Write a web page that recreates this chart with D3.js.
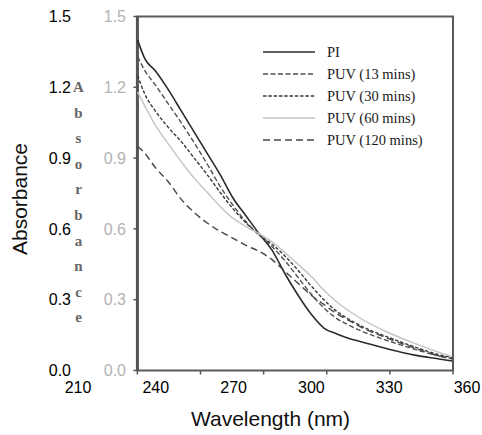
<!DOCTYPE html>
<html><head><meta charset="utf-8">
<script src="https://cdn.jsdelivr.net/npm/d3@7"></script>
<style>body{margin:0;background:#fff}svg{display:block}</style>
</head><body>
<script>
const wavelengths = [233.2, 236, 240, 245, 250, 255, 260, 265, 270, 275, 280, 285, 290, 295, 300, 305, 310, 315, 320, 330, 340, 350, 354.5];
const PI      = [1.40, 1.32, 1.27, 1.19, 1.10, 1.01, 0.92, 0.83, 0.73, 0.655, 0.58, 0.51, 0.41, 0.32, 0.24, 0.18, 0.155, 0.135, 0.12, 0.09, 0.065, 0.048, 0.04];
const PUV13   = [1.33, 1.27, 1.21, 1.13, 1.05, 0.965, 0.875, 0.78, 0.70, 0.63, 0.575, 0.525, 0.465, 0.395, 0.325, 0.265, 0.22, 0.19, 0.165, 0.125, 0.09, 0.06, 0.05];
const PUV30   = [1.25, 1.17, 1.10, 1.03, 0.97, 0.90, 0.83, 0.755, 0.685, 0.625, 0.575, 0.535, 0.485, 0.425, 0.36, 0.30, 0.25, 0.215, 0.185, 0.14, 0.10, 0.065, 0.055];
const PUV60   = [1.18, 1.12, 1.04, 0.96, 0.885, 0.815, 0.755, 0.695, 0.645, 0.61, 0.58, 0.545, 0.50, 0.45, 0.40, 0.34, 0.29, 0.25, 0.215, 0.16, 0.115, 0.075, 0.06];
const PUV120  = [0.95, 0.92, 0.86, 0.80, 0.725, 0.67, 0.625, 0.59, 0.56, 0.53, 0.505, 0.47, 0.42, 0.37, 0.32, 0.28, 0.24, 0.21, 0.18, 0.135, 0.095, 0.06, 0.05];
const seriesNames = ["PI", "PUV (13 mins)", "PUV (30 mins)", "PUV (60 mins)", "PUV (120 mins)"];
const xTicks = [210, 240, 270, 300, 330, 360];
const yTicks = [0.0, 0.3, 0.6, 0.9, 1.2, 1.5];
const innerXRange = [233.1, 354.8];
const innerLetters = ["A","b","s","o","r","b","a","n","c","e"];

const W = 482, H = 435;
const svg = d3.select("body").append("svg").attr("width", W).attr("height", H);
const x = d3.scaleLinear().domain([210, 360]).range([77.5, 466.5]);
const y = d3.scaleLinear().domain([0, 1.5]).range([370.5, 16.5]);

const styles = [
  {color:"#2b2b2b", dash:null, w:1.6},
  {color:"#505050", dash:"5,2.5", w:1.4},
  {color:"#3a3a3a", dash:"3.5,1.8", w:1.4},
  {color:"#c4c4c4", dash:null, w:1.4},
  {color:"#454545", dash:"7,4", w:1.4}
];
const allSeries = [PI, PUV13, PUV30, PUV60, PUV120];

svg.append("g").selectAll("text").data(yTicks).join("text")
  .attr("x", 126).attr("y", d => y(d)).attr("dy", "0.36em")
  .attr("text-anchor", "end").attr("font-family", "Liberation Sans, Arial, sans-serif")
  .attr("font-size", 16).attr("fill", "#b3b3b3").text(d => d.toFixed(1));

const letterScale = d3.scaleLinear().domain([0, innerLetters.length - 1]).range([87, 317]);
svg.append("g").selectAll("text").data(innerLetters).join("text")
  .attr("x", 78.5).attr("y", (d, i) => letterScale(i)).attr("dy", "0.35em")
  .attr("text-anchor", "middle").attr("font-family", "Liberation Serif, Times New Roman, serif")
  .attr("font-weight", "bold").attr("font-size", 15).attr("fill", "#666").text(d => d);

const fx0 = x(innerXRange[0]), fx1 = x(innerXRange[1]);
svg.append("rect").attr("x", fx0).attr("y", y(1.5)).attr("width", fx1 - fx0).attr("height", y(0) - y(1.5))
  .attr("fill", "none").attr("stroke", "#5a5a5a").attr("stroke-width", 2);
svg.append("line").attr("x1", fx0).attr("x2", fx0).attr("y1", y(1.5)).attr("y2", y(0))
  .attr("stroke", "#555").attr("stroke-width", 3);
svg.append("g").selectAll("line").data(yTicks).join("line")
  .attr("x1", fx0 - 4).attr("x2", fx0).attr("y1", d => y(d)).attr("y2", d => y(d))
  .attr("stroke", "#555").attr("stroke-width", 1.5);
const innerXT = d3.range(0, 6).map(i => innerXRange[0] + i * (innerXRange[1] - innerXRange[0]) / 5);
svg.append("g").selectAll("line").data(innerXT).join("line")
  .attr("x1", d => x(d)).attr("x2", d => x(d)).attr("y1", y(0)).attr("y2", y(0) + 4)
  .attr("stroke", "#555").attr("stroke-width", 1.5);

const line = d3.line().x(d => x(d[0])).y(d => y(d[1])).curve(d3.curveMonotoneX);
allSeries.forEach((vals, i) => {
  const pts = wavelengths.map((w, j) => [w, vals[j]]);
  svg.append("path").datum(pts).attr("d", line).attr("fill", "none")
    .attr("stroke", styles[i].color).attr("stroke-width", styles[i].w)
    .attr("stroke-dasharray", styles[i].dash);
});

const lg = svg.append("g");
seriesNames.forEach((name, i) => {
  const yy = 52 + i * 22;
  lg.append("line").attr("x1", 263).attr("x2", 315).attr("y1", yy).attr("y2", yy)
    .attr("stroke", styles[i].color).attr("stroke-width", styles[i].w)
    .attr("stroke-dasharray", styles[i].dash);
  lg.append("text").attr("x", 327).attr("y", yy).attr("dy", "0.35em")
    .attr("font-family", "Liberation Serif, Times New Roman, serif").attr("font-size", 14.5)
    .attr("fill", "#1a1a1a").text(name);
});

const xa = svg.append("g").attr("transform", `translate(0,${y(0)})`)
  .call(d3.axisBottom(x).tickValues(xTicks).tickSize(0).tickPadding(11.5).tickFormat(d3.format("d")));
xa.select(".domain").remove();
xa.selectAll("text").attr("font-family", "Liberation Sans, Arial, sans-serif").attr("font-size", 16).attr("fill", "#000");
const ya = svg.append("g").attr("transform", `translate(${x(210)},0)`)
  .call(d3.axisLeft(y).tickValues(yTicks).tickSize(0).tickPadding(6.5).tickFormat(d3.format(".1f")));
ya.select(".domain").remove();
ya.selectAll("text").attr("font-family", "Liberation Sans, Arial, sans-serif").attr("font-size", 16).attr("fill", "#000");

svg.append("text").attr("x", 270.5).attr("y", 426).attr("text-anchor", "middle")
  .attr("font-family", "Liberation Sans, Arial, sans-serif").attr("font-size", 21).attr("fill", "#111")
  .text("Wavelength (nm)");
svg.append("text").attr("transform", "translate(27,199) rotate(-90)").attr("text-anchor", "middle")
  .attr("font-family", "Liberation Sans, Arial, sans-serif").attr("font-size", 21).attr("fill", "#111")
  .text("Absorbance");
</script>
</body></html>
